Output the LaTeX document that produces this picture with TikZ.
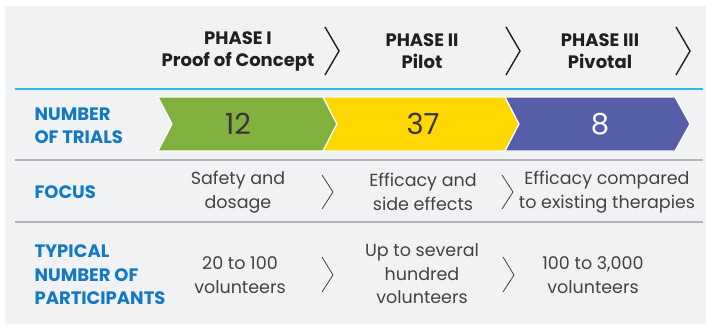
\documentclass[tikz,border=0pt]{standalone}
\usepackage{fontspec}
\setmainfont{Poppins}

\definecolor{panelgray}{HTML}{F1F2F4}
\definecolor{trialgreen}{HTML}{80B13F}
\definecolor{trialyellow}{HTML}{FED800}
\definecolor{trialpurple}{HTML}{565EAA}
\definecolor{labelblue}{HTML}{1479C4}
\definecolor{ruleblue}{HTML}{35B6E9}
\definecolor{rulegray}{HTML}{B4B5B8}
\definecolor{inkdark}{HTML}{231F20}

\tikzset{
  rowlabel/.style={anchor=west, align=left, text=labelblue, font=\bfseries\fontsize{18}{23.5}\selectfont},
  phasehead/.style={align=center, text=inkdark, font=\bfseries\fontsize{18}{22}\selectfont},
  celltext/.style={align=center, text=inkdark!85, font=\fontsize{17.5}{23.5}\selectfont},
  countnum/.style={font=\fontsize{29}{29}\selectfont},
  chevfill/.style={draw=white, line width=1.2pt, line join=miter},
  bigchev/.style={draw=inkdark, line width=1.4pt},
  smallchev/.style={draw=inkdark!85, line width=0.8pt}
}

\begin{document}
\begin{tikzpicture}[x=1pt, y=-1pt]

    % Page and grey panel
    \useasboundingbox (0,0) rectangle (706,324);
    \fill[panelgray] (5,6) rectangle (706,324);

    % Rules between the rows
    \draw[ruleblue, line width=2pt] (15,89) -- (703,89);
    \draw[rulegray, line width=1.3pt] (15,160) -- (703,160);
    \draw[rulegray, line width=1.3pt] (15,222) -- (703,222);

    % Phase headers
    \node[phasehead] (hdrOne)   at (238,51) {PHASE I\\Proof of Concept};
    \node[phasehead] (hdrTwo)   at (422,51) {PHASE II\\Pilot};
    \node[phasehead] (hdrThree) at (600,51) {PHASE III\\Pivotal};
    \draw[bigchev] (325,27) -- (339,51) -- (325,75);
    \draw[bigchev] (506,27) -- (520,51) -- (506,75);
    \draw[bigchev] (676,27) -- (690,51) -- (676,75);

    % Coloured chevrons with the trial counts
    \filldraw[chevfill, fill=trialgreen]  (158,97) -- (323,97) -- (337,124) -- (323,151) -- (158,151) -- (172,124) -- cycle;
    \filldraw[chevfill, fill=trialyellow] (323,97) -- (505,97) -- (519,124) -- (505,151) -- (323,151) -- (337,124) -- cycle;
    \filldraw[chevfill, fill=trialpurple] (505,97) -- (675,97) -- (690,124) -- (675,151) -- (505,151) -- (519,124) -- cycle;
    \node[countnum, text=inkdark!90] (numOne)   at (238,124) {12};
    \node[countnum, text=inkdark!90] (numTwo)   at (423,124) {37};
    \node[countnum, text=white]      (numThree) at (600,124) {8};

    % Row labels
    \node[rowlabel] (lblTrials) at (31,125.5) {NUMBER\\OF TRIALS};
    \node[rowlabel] (lblFocus)  at (31,192)   {FOCUS};
    \node[rowlabel] (lblPart)   at (31,275)   {TYPICAL\\NUMBER OF\\PARTICIPANTS};

    % Focus row
    \node[celltext] (focOne)   at (238,192) {Safety and\\dosage};
    \node[celltext] (focTwo)   at (423,192) {Efficacy and\\side effects};
    \node[celltext] (focThree) at (607,192) {Efficacy compared\\to existing therapies};
    \draw[smallchev] (322,175) -- (333,192) -- (322,209);
    \draw[smallchev] (502,175) -- (513,192) -- (502,209);

    % Participants row
    \node[celltext] (parOne)   at (240,275) {20 to 100\\volunteers};
    \node[celltext] (parTwo)   at (422,274) {Up to several\\hundred\\volunteers};
    \node[celltext] (parThree) at (593,275) {100 to 3,000\\volunteers};
    \draw[smallchev] (322,257) -- (333,275) -- (322,292);
    \draw[smallchev] (503,257) -- (514,275) -- (503,292);

\end{tikzpicture}
\end{document}
